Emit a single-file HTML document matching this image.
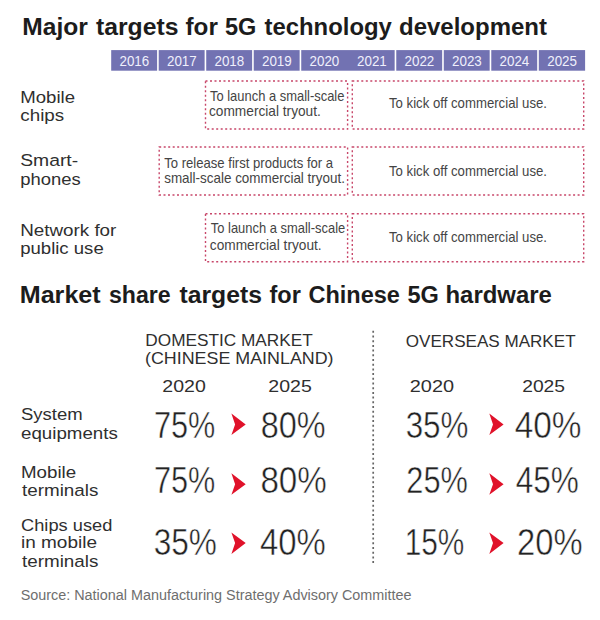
<!DOCTYPE html>
<html><head><meta charset="utf-8"><style>
html,body{margin:0;padding:0;background:#fff;}
body{width:600px;height:620px;position:relative;overflow:hidden;}
svg{position:absolute;left:0;top:0;font-family:"Liberation Sans",sans-serif;}
</style></head><body>
<svg width="600" height="620" viewBox="0 0 600 620">
<rect x="111.2" y="50.1" width="473.90" height="20.6" fill="#7272b2"/>
<rect x="157.11" y="49" width="1.6" height="23" fill="#fff"/>
<rect x="204.62" y="49" width="1.6" height="23" fill="#fff"/>
<rect x="252.13" y="49" width="1.6" height="23" fill="#fff"/>
<rect x="299.64" y="49" width="1.6" height="23" fill="#fff"/>
<rect x="394.66" y="49" width="1.6" height="23" fill="#fff"/>
<rect x="442.17" y="49" width="1.6" height="23" fill="#fff"/>
<rect x="489.68" y="49" width="1.6" height="23" fill="#fff"/>
<rect x="537.19" y="49" width="1.6" height="23" fill="#fff"/>
<rect x="205.50" y="81.00" width="142.10" height="48.00" fill="none" stroke="#c8476a" stroke-width="1.4" stroke-dasharray="2 2.5"/>
<rect x="352.30" y="81.00" width="231.40" height="48.00" fill="none" stroke="#c8476a" stroke-width="1.4" stroke-dasharray="2 2.5"/>
<rect x="159.20" y="147.00" width="188.40" height="48.00" fill="none" stroke="#c8476a" stroke-width="1.4" stroke-dasharray="2 2.5"/>
<rect x="352.30" y="147.00" width="231.40" height="48.00" fill="none" stroke="#c8476a" stroke-width="1.4" stroke-dasharray="2 2.5"/>
<rect x="205.50" y="213.70" width="142.10" height="48.00" fill="none" stroke="#c8476a" stroke-width="1.4" stroke-dasharray="2 2.5"/>
<rect x="352.30" y="213.70" width="231.40" height="48.00" fill="none" stroke="#c8476a" stroke-width="1.4" stroke-dasharray="2 2.5"/>
<line x1="373.2" y1="330.8" x2="373.2" y2="563" stroke="#666" stroke-width="1.7" stroke-dasharray="2 2.7"/>
<path d="M231.4,413.5 L245.7,424.5 L231.4,434.9 L235.1,424.5 Z" fill="#e0122a"/>
<path d="M489.3,413.5 L503.6,424.5 L489.3,434.9 L493.0,424.5 Z" fill="#e0122a"/>
<path d="M231.4,473.2 L245.7,484.2 L231.4,494.7 L235.1,484.2 Z" fill="#e0122a"/>
<path d="M489.3,473.2 L503.6,484.2 L489.3,494.7 L493.0,484.2 Z" fill="#e0122a"/>
<path d="M231.4,532.6 L245.7,543.1 L231.4,554.1 L235.1,543.1 Z" fill="#e0122a"/>
<path d="M489.3,532.6 L503.6,543.1 L489.3,554.1 L493.0,543.1 Z" fill="#e0122a"/>
<text x="22.30" y="35.00" font-size="23.5" font-weight="700" textLength="65.55" lengthAdjust="spacingAndGlyphs" fill="#1c1c1c">Major</text>
<text x="96.00" y="35.00" font-size="23.5" font-weight="700" textLength="82.40" lengthAdjust="spacingAndGlyphs" fill="#1c1c1c">targets</text>
<text x="185.50" y="35.00" font-size="23.5" font-weight="700" textLength="32.34" lengthAdjust="spacingAndGlyphs" fill="#1c1c1c">for</text>
<text x="225.00" y="35.00" font-size="23.5" font-weight="700" textLength="31.38" lengthAdjust="spacingAndGlyphs" fill="#1c1c1c">5G</text>
<text x="264.50" y="35.00" font-size="23.5" font-weight="700" textLength="127.35" lengthAdjust="spacingAndGlyphs" fill="#1c1c1c">technology</text>
<text x="399.00" y="35.00" font-size="23.5" font-weight="700" textLength="147.97" lengthAdjust="spacingAndGlyphs" fill="#1c1c1c">development</text>
<text x="19.70" y="302.80" font-size="23.5" font-weight="700" textLength="81.04" lengthAdjust="spacingAndGlyphs" fill="#1c1c1c">Market</text>
<text x="109.00" y="302.80" font-size="23.5" font-weight="700" textLength="61.70" lengthAdjust="spacingAndGlyphs" fill="#1c1c1c">share</text>
<text x="179.50" y="302.80" font-size="23.5" font-weight="700" textLength="82.40" lengthAdjust="spacingAndGlyphs" fill="#1c1c1c">targets</text>
<text x="269.50" y="302.80" font-size="23.5" font-weight="700" textLength="31.34" lengthAdjust="spacingAndGlyphs" fill="#1c1c1c">for</text>
<text x="308.50" y="302.80" font-size="23.5" font-weight="700" textLength="91.42" lengthAdjust="spacingAndGlyphs" fill="#1c1c1c">Chinese</text>
<text x="407.50" y="302.80" font-size="23.5" font-weight="700" textLength="31.38" lengthAdjust="spacingAndGlyphs" fill="#1c1c1c">5G</text>
<text x="445.50" y="302.80" font-size="23.5" font-weight="700" textLength="106.35" lengthAdjust="spacingAndGlyphs" fill="#1c1c1c">hardware</text>
<text x="20.30" y="102.70" font-size="17.2" font-weight="400" textLength="54.77" lengthAdjust="spacingAndGlyphs" fill="#2f2f2f">Mobile</text>
<text x="20.30" y="121.00" font-size="17.2" font-weight="400" textLength="43.84" lengthAdjust="spacingAndGlyphs" fill="#2f2f2f">chips</text>
<text x="20.20" y="165.70" font-size="17.2" font-weight="400" textLength="57.96" lengthAdjust="spacingAndGlyphs" fill="#2f2f2f">Smart-</text>
<text x="20.20" y="184.70" font-size="17.2" font-weight="400" textLength="60.50" lengthAdjust="spacingAndGlyphs" fill="#2f2f2f">phones</text>
<text x="20.20" y="236.00" font-size="17.2" font-weight="400" textLength="96.16" lengthAdjust="spacingAndGlyphs" fill="#2f2f2f">Network for</text>
<text x="20.20" y="254.40" font-size="17.2" font-weight="400" textLength="83.52" lengthAdjust="spacingAndGlyphs" fill="#2f2f2f">public use</text>
<text x="21.00" y="420.20" font-size="17.2" font-weight="400" textLength="61.70" lengthAdjust="spacingAndGlyphs" fill="#2f2f2f">System</text>
<text x="21.00" y="439.00" font-size="17.2" font-weight="400" textLength="96.83" lengthAdjust="spacingAndGlyphs" fill="#2f2f2f">equipments</text>
<text x="21.00" y="478.00" font-size="17.2" font-weight="400" textLength="55.15" lengthAdjust="spacingAndGlyphs" fill="#2f2f2f">Mobile</text>
<text x="22.00" y="496.30" font-size="17.2" font-weight="400" textLength="76.41" lengthAdjust="spacingAndGlyphs" fill="#2f2f2f">terminals</text>
<text x="21.00" y="530.80" font-size="17.2" font-weight="400" textLength="91.33" lengthAdjust="spacingAndGlyphs" fill="#2f2f2f">Chips used</text>
<text x="21.00" y="548.30" font-size="17.2" font-weight="400" textLength="75.98" lengthAdjust="spacingAndGlyphs" fill="#2f2f2f">in mobile</text>
<text x="22.00" y="567.00" font-size="17.2" font-weight="400" textLength="76.41" lengthAdjust="spacingAndGlyphs" fill="#2f2f2f">terminals</text>
<text x="210.00" y="100.80" font-size="14.2" font-weight="400" textLength="134.43" lengthAdjust="spacingAndGlyphs" fill="#444">To launch a small-scale</text>
<text x="209.00" y="116.20" font-size="14.2" font-weight="400" textLength="111.82" lengthAdjust="spacingAndGlyphs" fill="#444">commercial tryout.</text>
<text x="164.20" y="167.50" font-size="14.2" font-weight="400" textLength="168.96" lengthAdjust="spacingAndGlyphs" fill="#444">To release first products for a</text>
<text x="164.20" y="183.30" font-size="14.2" font-weight="400" textLength="180.76" lengthAdjust="spacingAndGlyphs" fill="#444">small-scale commercial tryout.</text>
<text x="210.80" y="233.30" font-size="14.2" font-weight="400" textLength="134.43" lengthAdjust="spacingAndGlyphs" fill="#444">To launch a small-scale</text>
<text x="209.80" y="249.70" font-size="14.2" font-weight="400" textLength="111.82" lengthAdjust="spacingAndGlyphs" fill="#444">commercial tryout.</text>
<text x="145.30" y="346.30" font-size="16.5" font-weight="400" textLength="167.50" lengthAdjust="spacingAndGlyphs" fill="#2f2f2f">DOMESTIC MARKET</text>
<text x="145.00" y="364.30" font-size="16.5" font-weight="400" textLength="188.57" lengthAdjust="spacingAndGlyphs" fill="#2f2f2f">(CHINESE MAINLAND)</text>
<text x="405.80" y="347.00" font-size="16.5" font-weight="400" textLength="169.77" lengthAdjust="spacingAndGlyphs" fill="#2f2f2f">OVERSEAS MARKET</text>
<text x="162.30" y="391.80" font-size="17.3" font-weight="400" textLength="43.45" lengthAdjust="spacingAndGlyphs" fill="#2f2f2f">2020</text>
<text x="268.30" y="391.80" font-size="17.3" font-weight="400" textLength="43.45" lengthAdjust="spacingAndGlyphs" fill="#2f2f2f">2025</text>
<text x="409.80" y="391.80" font-size="17.3" font-weight="400" textLength="44.28" lengthAdjust="spacingAndGlyphs" fill="#2f2f2f">2020</text>
<text x="522.20" y="391.80" font-size="17.3" font-weight="400" textLength="42.83" lengthAdjust="spacingAndGlyphs" fill="#2f2f2f">2025</text>
<text x="154.00" y="437.50" font-size="37" font-weight="400" textLength="61.34" lengthAdjust="spacingAndGlyphs" fill="#222" stroke="#fff" stroke-width="0.5">75%</text>
<text x="260.70" y="437.50" font-size="37" font-weight="400" textLength="64.90" lengthAdjust="spacingAndGlyphs" fill="#222" stroke="#fff" stroke-width="0.5">80%</text>
<text x="405.70" y="437.50" font-size="37" font-weight="400" textLength="62.75" lengthAdjust="spacingAndGlyphs" fill="#222" stroke="#fff" stroke-width="0.5">35%</text>
<text x="514.70" y="437.50" font-size="37" font-weight="400" textLength="66.86" lengthAdjust="spacingAndGlyphs" fill="#222" stroke="#fff" stroke-width="0.5">40%</text>
<text x="154.00" y="493.30" font-size="37" font-weight="400" textLength="61.34" lengthAdjust="spacingAndGlyphs" fill="#222" stroke="#fff" stroke-width="0.5">75%</text>
<text x="260.40" y="493.30" font-size="37" font-weight="400" textLength="66.36" lengthAdjust="spacingAndGlyphs" fill="#222" stroke="#fff" stroke-width="0.5">80%</text>
<text x="406.30" y="493.30" font-size="37" font-weight="400" textLength="61.56" lengthAdjust="spacingAndGlyphs" fill="#222" stroke="#fff" stroke-width="0.5">25%</text>
<text x="515.70" y="493.30" font-size="37" font-weight="400" textLength="63.16" lengthAdjust="spacingAndGlyphs" fill="#222" stroke="#fff" stroke-width="0.5">45%</text>
<text x="153.70" y="555.30" font-size="37" font-weight="400" textLength="63.16" lengthAdjust="spacingAndGlyphs" fill="#222" stroke="#fff" stroke-width="0.5">35%</text>
<text x="260.00" y="555.30" font-size="37" font-weight="400" textLength="65.83" lengthAdjust="spacingAndGlyphs" fill="#222" stroke="#fff" stroke-width="0.5">40%</text>
<text x="404.70" y="555.30" font-size="37" font-weight="400" textLength="59.68" lengthAdjust="spacingAndGlyphs" fill="#222" stroke="#fff" stroke-width="0.5">15%</text>
<text x="517.00" y="555.30" font-size="37" font-weight="400" textLength="65.51" lengthAdjust="spacingAndGlyphs" fill="#222" stroke="#fff" stroke-width="0.5">20%</text>
<text x="20.70" y="599.50" font-size="14" font-weight="400" textLength="390.76" lengthAdjust="spacingAndGlyphs" fill="#6e6e6e">Source: National Manufacturing Strategy Advisory Committee</text>
<text x="119.46" y="65.90" font-size="15.3" font-weight="400" textLength="29.77" lengthAdjust="spacingAndGlyphs" fill="#f0f0fc">2016</text>
<text x="166.97" y="65.90" font-size="15.3" font-weight="400" textLength="29.77" lengthAdjust="spacingAndGlyphs" fill="#f0f0fc">2017</text>
<text x="214.48" y="65.90" font-size="15.3" font-weight="400" textLength="29.77" lengthAdjust="spacingAndGlyphs" fill="#f0f0fc">2018</text>
<text x="261.99" y="65.90" font-size="15.3" font-weight="400" textLength="29.77" lengthAdjust="spacingAndGlyphs" fill="#f0f0fc">2019</text>
<text x="309.50" y="65.90" font-size="15.3" font-weight="400" textLength="29.77" lengthAdjust="spacingAndGlyphs" fill="#f0f0fc">2020</text>
<text x="357.01" y="65.90" font-size="15.3" font-weight="400" textLength="29.77" lengthAdjust="spacingAndGlyphs" fill="#f0f0fc">2021</text>
<text x="404.52" y="65.90" font-size="15.3" font-weight="400" textLength="29.77" lengthAdjust="spacingAndGlyphs" fill="#f0f0fc">2022</text>
<text x="452.03" y="65.90" font-size="15.3" font-weight="400" textLength="29.77" lengthAdjust="spacingAndGlyphs" fill="#f0f0fc">2023</text>
<text x="499.53" y="65.90" font-size="15.3" font-weight="400" textLength="29.77" lengthAdjust="spacingAndGlyphs" fill="#f0f0fc">2024</text>
<text x="547.24" y="65.90" font-size="15.3" font-weight="400" textLength="29.77" lengthAdjust="spacingAndGlyphs" fill="#f0f0fc">2025</text>
<text x="389.00" y="108.10" font-size="14.2" font-weight="400" textLength="157.97" lengthAdjust="spacingAndGlyphs" fill="#444">To kick off commercial use.</text>
<text x="389.00" y="175.50" font-size="14.2" font-weight="400" textLength="157.97" lengthAdjust="spacingAndGlyphs" fill="#444">To kick off commercial use.</text>
<text x="389.00" y="241.50" font-size="14.2" font-weight="400" textLength="157.97" lengthAdjust="spacingAndGlyphs" fill="#444">To kick off commercial use.</text>
</svg>
</body></html>
